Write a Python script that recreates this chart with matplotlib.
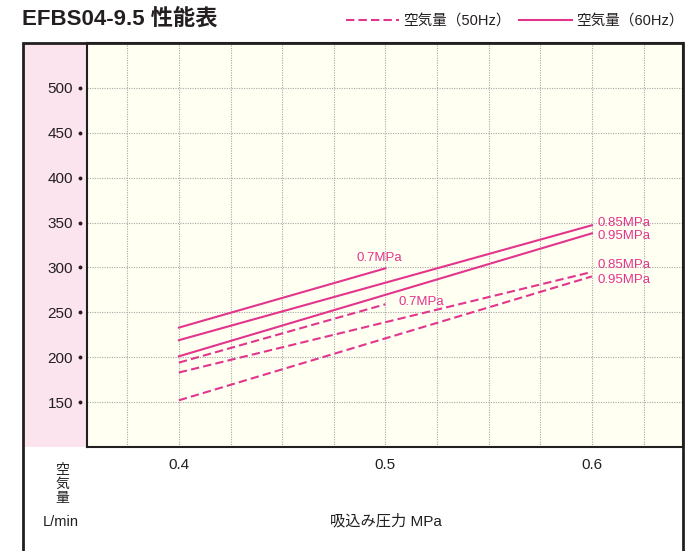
import matplotlib
matplotlib.use("Agg")
import matplotlib.pyplot as plt
from matplotlib.patches import Rectangle
from matplotlib.lines import Line2D

# fonts: latin in Liberation Sans, japanese falls back to Noto Sans CJK JP
FONTS = ["Liberation Sans", "Noto Sans CJK JP", "DejaVu Sans"]
plt.rcParams["font.family"] = FONTS

# data (L/min vs suction pressure MPa)
p_short = [0.4, 0.5]
p_long = [0.4, 0.6]

hz60_07 = [233, 299]
hz60_085 = [219, 347]
hz60_095 = [201, 338]

hz50_07 = [194, 259]
hz50_085 = [183, 295]
hz50_095 = [152, 290]

y_ticks = [150, 200, 250, 300, 350, 400, 450, 500]
x_ticks = [0.4, 0.5, 0.6]
x_tick_labels = ["0.4", "0.5", "0.6"]

PINK = "#e2358c"
DARK = "#231f20"
W, H = 685, 551


def fx(px):
    return px / W


def fy(py):
    return 1 - py / H


fig = plt.figure(figsize=(6.85, 5.51), dpi=100)

# pink strip behind the y tick labels
fig.patches.append(Rectangle((fx(23), fy(447)), fx(87) - fx(23), fy(43) - fy(447),
                             transform=fig.transFigure, facecolor="#fce4ee",
                             edgecolor="none", zorder=-1))
# outer frame, runs off the bottom of the picture
fig.patches.append(Rectangle((fx(23), fy(570)), fx(683) - fx(23), fy(43) - fy(570),
                             transform=fig.transFigure, facecolor="none",
                             edgecolor=DARK, linewidth=2.0, zorder=5))

ax = fig.add_axes([fx(87), fy(447), fx(683) - fx(87), fy(43) - fy(447)])
ax.set_zorder(1)
ax.set_facecolor("#fffff2")
ax.set_xlim(0.3555, 0.6441)
ax.set_ylim(100, 550)

# dotted grid
for xv in [0.375, 0.4, 0.425, 0.45, 0.475, 0.5, 0.525, 0.55, 0.575, 0.6, 0.625]:
    ax.axvline(xv, color="#a8a8a8", linewidth=0.8, linestyle=(0, (1, 1.2)), zorder=1)
for yv in y_ticks:
    ax.axhline(yv, color="#a8a8a8", linewidth=0.8, linestyle=(0, (1, 1.2)), zorder=1)

# 60Hz solid lines
for vals, xs in [(hz60_07, p_short), (hz60_085, p_long), (hz60_095, p_long)]:
    ax.plot(xs, vals, color=PINK, linewidth=1.5, zorder=3)
# 50Hz dashed lines
for vals, xs in [(hz50_07, p_short), (hz50_085, p_long), (hz50_095, p_long)]:
    ax.plot(xs, vals, color=PINK, linewidth=1.5, linestyle=(0, (4, 2)), zorder=3)

lab = dict(color=PINK, fontsize=9.5, va="center", zorder=4)
ax.text(0.497, 311, "0.7MPa", ha="center", **lab)
ax.text(0.5065, 262, "0.7MPa", ha="left", **lab)
ax.text(0.6025, 350, "0.85MPa", ha="left", **lab)
ax.text(0.6025, 335, "0.95MPa", ha="left", **lab)
ax.text(0.6025, 303, "0.85MPa", ha="left", **lab)
ax.text(0.6025, 286, "0.95MPa", ha="left", **lab)

# y ticks with the little dots
ax.set_yticks(y_ticks)
ax.set_yticklabels([str(v) for v in y_ticks])
ax.tick_params(axis="y", length=0, pad=10, labelsize=11, labelcolor=DARK)
ax.plot([-7 / 596] * len(y_ticks), y_ticks, "o", markersize=1.8, color=DARK,
        transform=ax.get_yaxis_transform(), clip_on=False, zorder=6)

ax.set_xticks(x_ticks)
ax.set_xticklabels(x_tick_labels)
ax.tick_params(axis="x", length=0, pad=8, labelsize=11, labelcolor=DARK)

for side in ["left", "bottom", "top", "right"]:
    ax.spines[side].set_color(DARK)
    ax.spines[side].set_linewidth(1.5)

# title and legend
fig.text(fx(22), fy(26), "EFBS04-9.5 性能表", fontsize=16, fontweight="bold",
         color=DARK, ha="left", va="baseline")

handles = [Line2D([], [], color=PINK, linewidth=1.5, linestyle=(0, (4, 2))),
           Line2D([], [], color=PINK, linewidth=1.5)]
fig.legend(handles, ["空気量（50Hz）", "空気量（60Hz）"], ncol=2, frameon=False,
           loc="center right", bbox_to_anchor=(fx(685), fy(21)), borderpad=0.1,
           borderaxespad=0, fontsize=10.5, handlelength=3.6, handletextpad=0.3,
           columnspacing=0.6, labelcolor=DARK)

# axis captions below the plot
fig.text(fx(62), fy(484), "空\n気\n量", fontsize=10, color=DARK, ha="center",
         va="center", linespacing=1.0)
fig.text(fx(61), fy(522), "L/min", fontsize=10.5, color=DARK, ha="center", va="center")
fig.text(fx(386), fy(521), "吸込み圧力 MPa", fontsize=11, color=DARK, ha="center",
         va="center")

fig.savefig("out.png", dpi=100)
